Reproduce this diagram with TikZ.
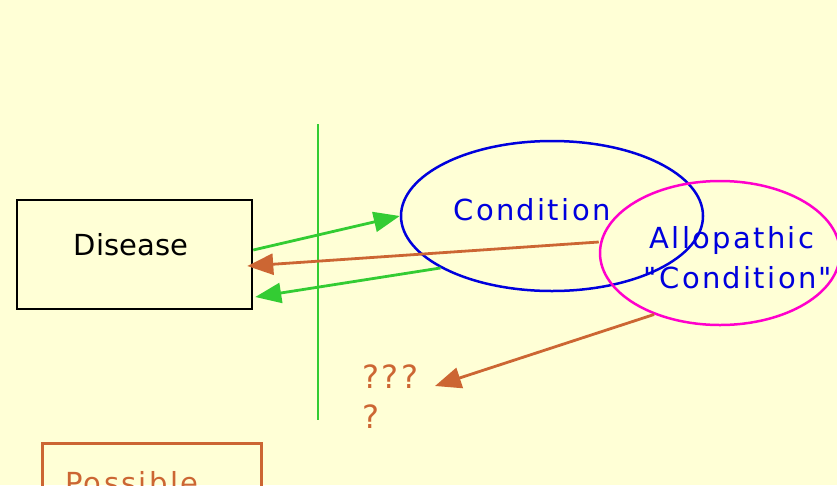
\documentclass[tikz,border=0pt]{standalone}
\usepackage{fontspec}
\setmainfont{DejaVu Sans}
\newfontfamily\spaced[LetterSpace=8]{DejaVu Sans}
\newfontfamily\spacedq[LetterSpace=8]{DejaVu Sans}
\usetikzlibrary{shapes.geometric,arrows.meta}
\definecolor{bg}{HTML}{FFFFD6}
\definecolor{grn}{HTML}{33CC33}
\definecolor{org}{HTML}{CC6633}
\definecolor{blu}{HTML}{0000DD}
\definecolor{mag}{HTML}{FF00CC}
\tikzset{
  txt/.style={font=\fontsize{29}{40}\selectfont, inner sep=0pt},
  qtxt/.style={font=\fontsize{32}{40}\selectfont, inner sep=0pt, text=org},
  garrow/.style={draw=grn, line width=2.8pt, -{Triangle[length=26pt,width=20pt]}},
  oarrow/.style={draw=org, line width=2.8pt, -{Triangle[length=26pt,width=21pt]}},
}
\begin{document}
\begin{tikzpicture}[x=1pt,y=-1pt]
\useasboundingbox (0,0) rectangle (837,485);
\clip (0,0) rectangle (837,485);
\fill[bg] (0,0) rectangle (837,485);
% vertical divider
\draw[grn, line width=2.8pt] (318,124) -- (318,420);
% nodes
\node[draw=black, line width=2.5pt, minimum width=235pt, minimum height=109pt, inner sep=0pt] (dis) at (134.5,254.5) {};
\node[txt, anchor=base] (distxt) at (131,255) {Disease};
\node[ellipse, draw=blu, line width=2.5pt, minimum width=302pt, minimum height=150pt, inner sep=0pt] (cond) at (552,216) {};
\node[txt, text=blu, anchor=base] (condtxt) at (532,220) {\spaced Condition};
\node[ellipse, draw=mag, line width=2.5pt, minimum width=240pt, minimum height=144pt, inner sep=0pt] (allo) at (720,253) {};
\node[txt, text=blu, anchor=base] (allotxt1) at (732,248) {\spaced Allopathic};
\node[txt, text=blu, anchor=base] (allotxt2) at (738,288) {\spaced "Condition"};
\node[qtxt, anchor=base west] (qq1) at (362,388) {\spacedq ???};
\node[qtxt, anchor=base west] (qq2) at (362,428) {\spacedq ?};
\coordinate (qtip) at (435,386);
\node[draw=org, line width=2.5pt, minimum width=219pt, minimum height=120pt, inner sep=0pt, anchor=north west] (poss) at (41,442) {};
\node[txt, text=org, anchor=base west] (posstxt) at (65,493) {\spaced Possible};
% connectors
\draw[garrow] ([yshift=4.5pt]dis.east) -- (cond.west);
\draw[oarrow] ([yshift=11pt]allo.west) -- ([xshift=-6pt,yshift=-11.5pt]dis.east);
\draw[garrow] (cond.205) -- ([xshift=2pt,yshift=-42.5pt]dis.east);
\draw[oarrow] (allo.223) -- (qtip);
\end{tikzpicture}
\end{document}
